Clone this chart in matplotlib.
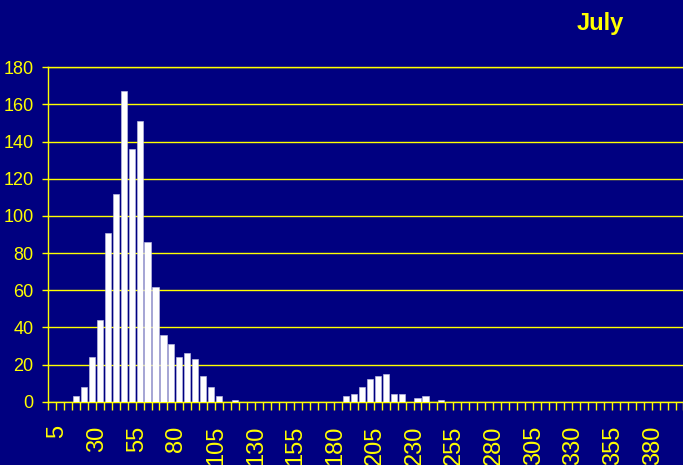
import matplotlib
matplotlib.use("Agg")
import matplotlib.pyplot as plt
import matplotlib.transforms as mtransforms
import numpy as np

plt.rcParams['font.family'] = ['Liberation Sans', 'DejaVu Sans']

# categories 5, 10, ... 400
bins = list(range(5, 405, 5))
counts = [0, 0, 0,
          3, 8, 24, 44, 91, 112, 167, 136, 151, 86, 62, 36, 31, 24, 26, 23, 14, 8, 3, 0, 1,
          0, 0, 0, 0, 0, 0, 0, 0, 0, 0, 0, 0, 0,
          3, 4, 8, 12, 14, 15, 4, 4, 0, 2, 3, 0, 1,
          0, 0, 0, 0, 0, 0, 0, 0, 0, 0, 0, 0, 0, 0, 0,
          0, 0, 0, 0, 0, 0, 0, 0, 0, 0, 0, 0, 0, 0, 0]
label_every = 5
yticks = list(range(0, 181, 20))

navy = '#000080'
yellow = '#ffff00'

fig = plt.figure(figsize=(6.83, 4.65), dpi=100, facecolor=navy)
ax = fig.add_axes([0.0707, 0.1361, 0.930, 0.7191], facecolor=navy)

x = np.arange(len(bins))
ax.bar(x, counts, width=0.78, color='white', edgecolor='#c8c8e8', linewidth=0.4, zorder=3)

ax.set_xlim(-0.5, len(bins) - 0.5)
ax.set_ylim(0, 180)
ax.set_yticks(yticks)
ax.yaxis.grid(True, color=yellow, linewidth=1)
ax.set_axisbelow(True)

# tick marks on category boundaries, labels centred on every 5th category
ax.set_xticks(np.arange(len(bins) + 1) - 0.5)
ax.set_xticklabels([])
ax.set_xticks(x[::label_every], minor=True)
ax.set_xticklabels([str(b) for b in bins[::label_every]], minor=True, rotation=90)
ax.tick_params(axis='x', which='major', direction='out', length=6, width=1, color=yellow)
ax.tick_params(axis='x', which='minor', length=0, pad=17, labelsize=17, labelcolor=yellow)
ax.tick_params(axis='y', direction='out', length=4.5, width=1, color=yellow,
               pad=6, labelsize=13, labelcolor=yellow)

offset = mtransforms.ScaledTranslation(5 / 100, 0, fig.dpi_scale_trans)
for lab in ax.xaxis.get_minorticklabels():
    lab.set_transform(lab.get_transform() + offset)

for side in ['left', 'bottom', 'top']:
    ax.spines[side].set_color(yellow)
    ax.spines[side].set_linewidth(1)
ax.spines['right'].set_visible(False)

fig.text(600 / 683, 1 - 30 / 465, 'July', ha='center', va='baseline',
         fontsize=17, fontweight='bold', color=yellow)

fig.savefig('out.png', dpi=100, facecolor=navy)
